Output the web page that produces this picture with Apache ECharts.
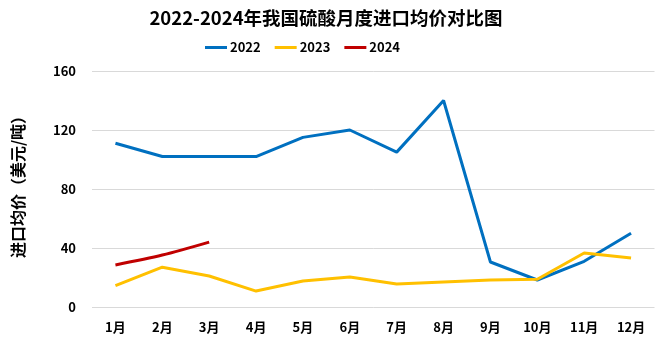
<!DOCTYPE html>
<html><head><meta charset="utf-8">
<script src="https://cdn.jsdelivr.net/npm/echarts@6/dist/echarts.min.js"></script>
<style>html,body{margin:0;padding:0;background:#fff}#c{width:661px;height:340px}</style>
</head><body><div id="c"></div>
<script>
const categories = ['1月','2月','3月','4月','5月','6月','7月','8月','9月','10月','11月','12月'];
const s2022 = [111, 102, 102, 102, 115, 120, 105, 140, 30.5, 18.3, 31, 50];
const s2023 = [14.5, 27, 21, 10.8, 17.6, 20.3, 15.6, 17, 18.3, 18.8, 36.6, 33.2];
const s2024 = [28.5, 35.2, 44];
const yTicks = [0, 40, 80, 120, 160];

const chart = echarts.init(document.getElementById('c'));
const font = '"Noto Sans CJK SC", "Microsoft YaHei", sans-serif';
chart.setOption({
  animation: false,
  title: { text: '2022-2024年我国硫酸月度进口均价对比图', left: 321, top: 4, textAlign: 'center',
    textStyle: { fontSize: 18.5, fontWeight: 'bold', color: '#000', fontFamily: font } },
  legend: { top: 36, left: 200, itemWidth: 22, itemHeight: 3, itemGap: 14,
    icon: 'rect', textStyle: { fontSize: 13, fontWeight: 'bold', color: '#000', fontFamily: font, padding: [0,0,0,-2] },
    data: ['2022','2023','2024'] },
  grid: { left: 92, right: 6.5, top: 71, bottom: 33, containLabel: false },
  xAxis: { type: 'category', data: categories, boundaryGap: true,
    axisLine: { show: false }, axisTick: { show: false },
    axisLabel: { fontSize: 13, fontWeight: 'bold', color: '#000', margin: 14, fontFamily: font } },
  yAxis: { type: 'value', min: 0, max: 160, interval: 40,
    axisLine: { show: false }, axisTick: { show: false },
    axisLabel: { fontSize: 13, fontWeight: 'bold', color: '#000', margin: 16, fontFamily: font,
      formatter: v => yTicks.includes(v) ? String(v) : '' },
    splitLine: { lineStyle: { color: '#d9d9d9', width: 1 } } },
  graphic: [{ type: 'text', x: 18, y: 183, rotation: Math.PI / 2,
    style: { text: '进口均价（美元/吨）', fontSize: 16, fontWeight: 'bold', fill: '#000', fontFamily: font,
      align: 'center', verticalAlign: 'middle' } }],
  series: [
    { name: '2022', type: 'line', data: s2022, symbol: 'none', lineStyle: { width: 3, color: '#0070C0' }, itemStyle: { color: '#0070C0' } },
    { name: '2023', type: 'line', data: s2023, symbol: 'none', lineStyle: { width: 3, color: '#FFC000' }, itemStyle: { color: '#FFC000' } },
    { name: '2024', type: 'line', data: s2024, symbol: 'none', smooth: 0.3, lineStyle: { width: 3, color: '#C00000' }, itemStyle: { color: '#C00000' } }
  ]
});
</script></body></html>
